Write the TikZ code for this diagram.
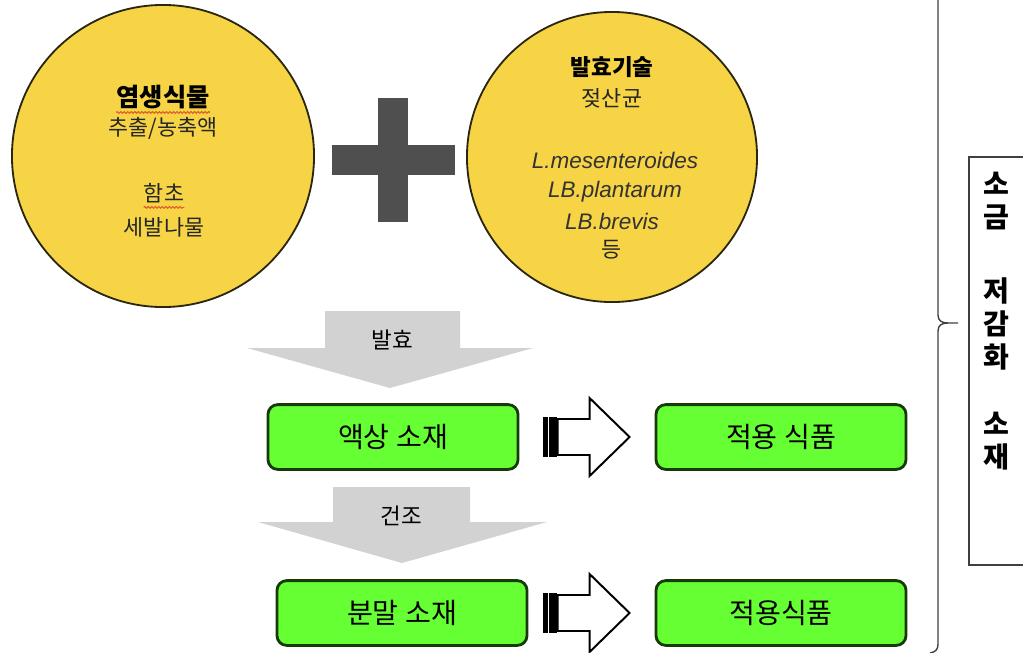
\documentclass[tikz,border=0pt]{standalone}
\usepackage{fontspec}
\setmainfont{Noto Sans CJK KR}
\newfontfamily\latinit{Liberation Sans}
\usetikzlibrary{calc,decorations.pathmorphing}

\definecolor{circlefill}{HTML}{F6D445}
\definecolor{circleline}{HTML}{2A2610}
\definecolor{boxgreen}{HTML}{66FF33}
\definecolor{boxline}{HTML}{163A08}
\definecolor{arrowgrey}{HTML}{D2D2D2}
\definecolor{plusgrey}{HTML}{4F4F4F}
\definecolor{squigred}{HTML}{E0602A}

\begin{document}
\begin{tikzpicture}[
      x=0.025cm,y=-0.025cm,
      circ/.style={circle,draw=circleline,line width=1.3pt,fill=circlefill,inner sep=0pt},
      ttl/.style={inner sep=0pt,font=\bfseries\fontsize{18}{21}\selectfont},
      txt/.style={inner sep=0pt,text=black!85,font=\fontsize{15.5}{19}\selectfont},
      latin/.style={inner sep=0pt,text=black!80,font=\latinit\itshape\fontsize{16}{19}\selectfont},
      matbox/.style={draw=boxline,line width=2pt,fill=boxgreen,rounded corners=7pt,
        minimum width=6.25cm,minimum height=1.62cm,font=\fontsize{20}{24}\selectfont},
      steplabel/.style={inner sep=0pt,font=\fontsize{16}{19}\selectfont},
      hollow/.style={draw=black,line width=1.4pt,fill=white,line join=miter},
      squig/.style={squigred,line width=0.8pt,decorate,
        decoration={snake,amplitude=0.6pt,segment length=2.5pt}}
    ]
      \useasboundingbox (0,0) rectangle (1023,652);

      % two source circles and the plus
      \node[circ,minimum size=7.55cm] (plant) at (163,156) {};
      \node[circ,minimum size=7.25cm] (ferm) at (612,157) {};
      \fill[plusgrey] (378,98) rectangle (408,222);
      \fill[plusgrey] (332,145) rectangle (455,175);

      \node[ttl] (halo) at (163,97) {염생식물};
      \node[txt] (extr) at (163,128) {추출/농축액};
      \node[txt] (hamcho) at (164,193) {함초};
      \node[txt] (sebal) at (164,227) {세발나물};
      \draw[squig] ($(halo.base west)+(0,6)$) -- ($(halo.base east)+(0,6)$);
      \draw[squig] ($(hamcho.base west)+(0,6)$) -- ($(hamcho.base east)+(0,6)$);

      \node[ttl,font=\bfseries\fontsize{16}{19}\selectfont] (tech) at (612,67) {발효기술};
      \node[txt] (lab) at (612,98) {젖산균};
      \node[latin] (sp1) at (615,160) {L.mesenteroides};
      \node[latin] (sp2) at (615,192) {LB.plantarum};
      \node[latin] (sp3) at (612,221) {LB.brevis};
      \node[txt] (etc) at (612,250) {등};

      % process arrows
      \fill[arrowgrey] (325,311) -- (460,311) -- (460,348) -- (533,348) -- (390,388)
        -- (247,348) -- (325,348) -- cycle;
      \node[steplabel] (st1) at (392,340) {발효};
      \fill[arrowgrey] (333,487) -- (470,487) -- (470,522) -- (547,522) -- (402,563)
        -- (258,522) -- (333,522) -- cycle;
      \node[steplabel] (st2) at (401,516) {건조};

      % material boxes
      \node[matbox] (liq) at (393,437) {액상 소재};
      \node[matbox] (app1) at (781,437) {적용 식품};
      \node[matbox] (pow) at (402,613) {분말 소재};
      \node[matbox] (app2) at (781,613) {적용식품};

      \begin{scope}[shift={(app1.west)}]
        \fill (-112,-20) rectangle (-98,20);
        \draw[white,line width=0.7pt] (-106,-20) -- (-106,20);
        \draw[hollow] (-97,-18) -- (-65,-18) -- (-65,-39) -- (-25,0) -- (-65,39)
          -- (-65,18) -- (-97,18) -- cycle;
      \end{scope}
      \begin{scope}[shift={(app2.west)}]
        \fill (-112,-20) rectangle (-98,20);
        \draw[white,line width=0.7pt] (-106,-20) -- (-106,20);
        \draw[hollow] (-97,-18) -- (-65,-18) -- (-65,-39) -- (-25,0) -- (-65,39)
          -- (-65,18) -- (-97,18) -- cycle;
      \end{scope}

      % brace and result box
      \draw[black!75,line width=1pt] (938,-5) -- (938,315)
        .. controls (938,321) and (942,323) .. (948,323) -- (958,323);
      \draw[black!75,line width=1pt] (948,323) .. controls (942,323) and (938,325) .. (938,331)
        -- (938,644) .. controls (938,649) and (936,652) .. (930,653);
      \draw[black!75,line width=0.9pt] (1030,157) -- (969,157) -- (969,565) -- (1030,565);
      \node[inner sep=0pt,align=center,font=\bfseries\fontsize{20}{23.5}\selectfont] (salt)
        at (996,321) {소\\금\\[29pt]저\\감\\화\\[24pt]소\\재};
    \end{tikzpicture}
\end{document}
